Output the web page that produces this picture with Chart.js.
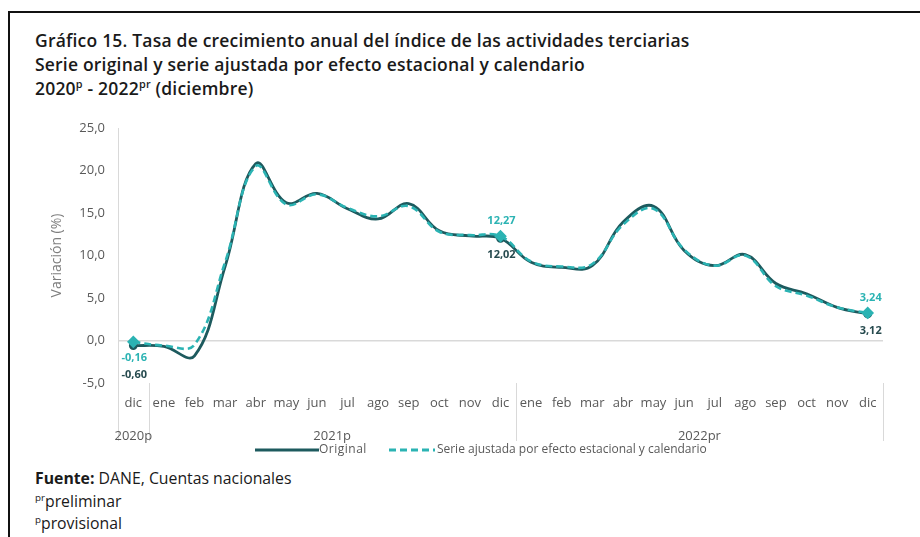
<!DOCTYPE html>
<html lang="es">
<head>
<meta charset="utf-8">
<script src="https://cdn.jsdelivr.net/npm/chart.js@4.4.1/dist/chart.umd.min.js"></script>
<style>
    html, body { margin: 0; padding: 0; background: #fff; }
    body { width: 920px; height: 537px; position: relative; overflow: hidden; font-family: "Open Sans", sans-serif; }
    .frame { position: absolute; left: 8px; top: 11px; right: 0; bottom: 0; border-top: 2px solid #111; border-left: 2px solid #111; }
    .title { position: absolute; left: 35px; top: 28px; font-weight: 600; font-size: 17.5px; letter-spacing: 0.2px; line-height: 24px; color: #1a1a1a; }
    .title sup, .notes sup { font-size: 0.62em; line-height: 0; }
    .chart-box { position: absolute; left: 0; top: 0; width: 920px; height: 460px; }
    .legend { position: absolute; left: 255px; top: 440px; font-size: 12px; color: #595959; display: flex; align-items: center; white-space: nowrap; }
    .legend svg { display: block; }
    .notes { position: absolute; left: 35px; top: 467px; font-size: 15.8px; line-height: 22.5px; color: #1a1a1a; }
</style>
</head>
<body>
<div class="frame"></div>
<div class="title">
    Gráfico 15. Tasa de crecimiento anual del índice de las actividades terciarias<br>
    Serie original y serie ajustada por efecto estacional y calendario<br>
    2020<sup>p</sup> - 2022<sup>pr</sup> (diciembre)
</div>
<div class="chart-box"><canvas id="chart"></canvas></div>
<div class="legend">
    <svg width="64" height="10"><line x1="0" y1="6" x2="64" y2="6" stroke="#1d5a5e" stroke-width="3"/></svg>
    <span style="margin-right: 22px; letter-spacing: 0.5px;">Original</span>
    <svg width="46" height="10"><line x1="0" y1="6" x2="46" y2="6" stroke="#2bb3b3" stroke-width="3" stroke-dasharray="7,4"/></svg>
    <span style="margin-left: 2px;">Serie ajustada por efecto estacional y calendario</span>
</div>
<div class="notes">
    <b>Fuente:</b> DANE, Cuentas nacionales<br>
    <sup>pr</sup>preliminar<br>
    <sup>p</sup>provisional
</div>

<script>
// Data
const months = ['dic', 'ene', 'feb', 'mar', 'abr', 'may', 'jun', 'jul', 'ago', 'sep', 'oct', 'nov', 'dic',
    'ene', 'feb', 'mar', 'abr', 'may', 'jun', 'jul', 'ago', 'sep', 'oct', 'nov', 'dic'];
const yearLabels = ['2020p', '2021p', '2022pr'];
const yearRanges = [[0, 0], [1, 12], [13, 24]];
const yearBreaks = [0, 1, 13, 25];

const original = [-0.60, -0.7, -1.8, 8.7, 20.8, 16.2, 17.3, 15.5, 14.3, 16.1, 12.9, 12.3, 12.02,
    9.2, 8.6, 8.8, 13.9, 15.8, 10.6, 8.8, 10.1, 6.7, 5.5, 3.9, 3.12];
const adjusted = [-0.16, -0.6, -0.5, 9.2, 20.5, 16.0, 17.2, 15.6, 14.6, 15.8, 12.8, 12.4, 12.27,
    9.3, 8.7, 9.0, 13.6, 15.5, 10.7, 8.8, 10.0, 6.4, 5.3, 3.9, 3.24];

const markedPoints = [0, 12, 24];

const DARK = '#1d5a5e';
const CYAN = '#2bb3b3';

function fmt(v) {
    return v.toFixed(2).replace('.', ',');
}

// Separators, year labels and value labels
const extrasPlugin = {
    id: 'extras',
    afterDraw(chart) {
        const ctx = chart.ctx;
        const xs = chart.scales.x;
        const area = chart.chartArea;
        const step = xs.getPixelForValue(1) - xs.getPixelForValue(0);

        ctx.save();
        ctx.strokeStyle = '#d9d9d9';
        ctx.lineWidth = 1;
        yearBreaks.forEach(i => {
            const x = Math.round(xs.getPixelForValue(0) + (i - 0.5) * step) + 0.5;
            ctx.beginPath();
            ctx.moveTo(x, area.bottom);
            ctx.lineTo(x, area.bottom + 58);
            ctx.stroke();
        });

        ctx.fillStyle = '#595959';
        ctx.font = '13px "Open Sans"';
        ctx.textAlign = 'center';
        ctx.textBaseline = 'middle';
        yearLabels.forEach((label, k) => {
            const [a, b] = yearRanges[k];
            const x = (xs.getPixelForValue(a) + xs.getPixelForValue(b)) / 2;
            ctx.fillText(label, x, area.bottom + 53);
        });

        // value labels: adjusted above / original below (first point both below)
        ctx.font = 'bold 11px "Open Sans"';
        const ys = chart.scales.y;
        markedPoints.forEach((i, k) => {
            const x = xs.getPixelForValue(i);
            const yA = ys.getPixelForValue(adjusted[i]);
            const yO = ys.getPixelForValue(original[i]);
            ctx.fillStyle = CYAN;
            ctx.fillText(fmt(adjusted[i]), x + (k === 2 ? 3 : 1), k === 0 ? yA + 16 : yA - 15);
            ctx.fillStyle = '#264a4e';
            ctx.fillText(fmt(original[i]), x + (k === 2 ? 3 : 1), k === 0 ? yO + 29 : yO + 17);
        });
        ctx.restore();
    }
};

const ctx = document.getElementById('chart').getContext('2d');
new Chart(ctx, {
    type: 'line',
    data: {
        labels: months,
        datasets: [{
            label: 'Original',
            data: original,
            borderColor: DARK,
            backgroundColor: DARK,
            borderWidth: 2.8,
            tension: 0.4,
            pointRadius: c => markedPoints.includes(c.dataIndex) ? 3 : 0,
            pointStyle: 'circle',
            order: 1
        }, {
            label: 'Serie ajustada por efecto estacional y calendario',
            data: adjusted,
            borderColor: CYAN,
            backgroundColor: CYAN,
            borderWidth: 2.6,
            borderDash: [7, 4],
            tension: 0.4,
            pointRadius: c => markedPoints.includes(c.dataIndex) ? 4.5 : 0,
            pointStyle: 'rectRot',
            order: 0
        }]
    },
    options: {
        responsive: true,
        maintainAspectRatio: false,
        animation: false,
        layout: {
            padding: { left: 38, right: 37, top: 128, bottom: 0 }
        },
        plugins: {
            legend: { display: false },
            tooltip: { enabled: false }
        },
        scales: {
            x: {
                offset: true,
                grid: { display: false, drawTicks: false },
                border: { display: false },
                ticks: {
                    autoSkip: false,
                    maxRotation: 0,
                    minRotation: 0,
                    padding: 12,
                    color: '#595959',
                    font: { family: 'Open Sans', size: 13 }
                },
                afterFit: scale => { scale.height = 77; }
            },
            y: {
                min: -5,
                max: 25,
                ticks: {
                    stepSize: 5,
                    padding: 13,
                    color: '#595959',
                    font: { family: 'Open Sans', size: 13 },
                    callback: v => v.toFixed(1).replace('.', ',')
                },
                grid: {
                    drawTicks: false,
                    color: c => c.tick && c.tick.value === 0 ? '#d9d9d9' : 'rgba(0,0,0,0)',
                    lineWidth: 1.5
                },
                border: { display: true, color: '#d9d9d9' },
                title: {
                    display: true,
                    text: 'Variación (%)',
                    color: '#7f7f7f',
                    font: { family: 'Open Sans', size: 14 },
                    padding: { top: 11, bottom: 4 }
                },
                afterFit: scale => { scale.width = 80; }
            }
        }
    },
    plugins: [extrasPlugin]
});
</script>
</body>
</html>
